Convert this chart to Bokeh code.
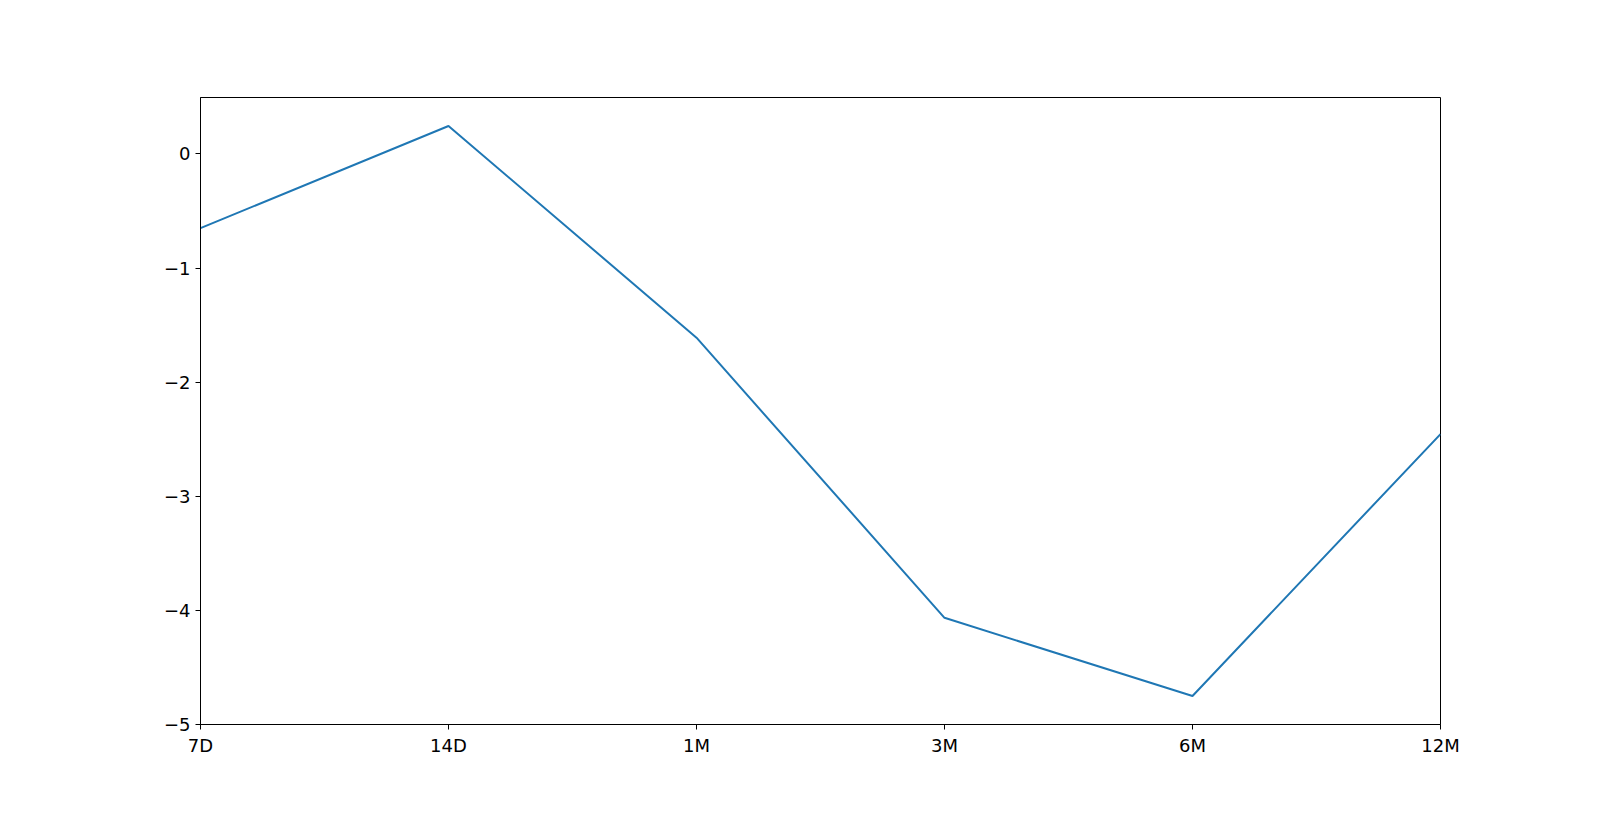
from bokeh.plotting import figure
from bokeh.models import Range1d, FixedTicker
from bokeh.embed import file_html
from bokeh.resources import INLINE

# data
tenors = ["7D", "14D", "1M", "3M", "6M", "12M"]
values = [-0.65, 0.245, -1.61, -4.065, -4.75, -2.455]
y_ticks = [-5, -4, -3, -2, -1, 0]

x = list(range(len(tenors)))
pad = 0.05 * (max(values) - min(values))

p = figure(width=1584, height=798, output_backend="svg", toolbar_location=None,
           x_range=Range1d(0, len(tenors) - 1),
           y_range=Range1d(min(y_ticks), max(values) + pad),
           min_border_left=200, min_border_right=144,
           min_border_top=97, min_border_bottom=74)

p.line(x, values, line_color="#1f77b4", line_width=2)

# axes like matplotlib
p.xgrid.visible = False
p.ygrid.visible = False
p.outline_line_color = "black"
p.outline_line_width = 1
p.outline_line_alpha = 1

p.xaxis.ticker = FixedTicker(ticks=x)
p.xaxis.major_label_overrides = {i: t for i, t in enumerate(tenors)}
p.yaxis.ticker = FixedTicker(ticks=y_ticks)
p.yaxis.major_label_overrides = {v: str(v).replace("-", "\u2212") for v in y_ticks}

for ax in [p.xaxis[0], p.yaxis[0]]:
    ax.axis_line_color = "black"
    ax.major_tick_line_color = "black"
    ax.major_tick_in = 0
    ax.major_tick_out = 5
    ax.minor_tick_line_color = None
    ax.major_label_text_font = "DejaVu Sans"
    ax.major_label_text_font_size = "18px"
    ax.major_label_text_color = "black"
    ax.major_label_standoff = 5

open("out.html", "w").write(file_html(p, INLINE))
